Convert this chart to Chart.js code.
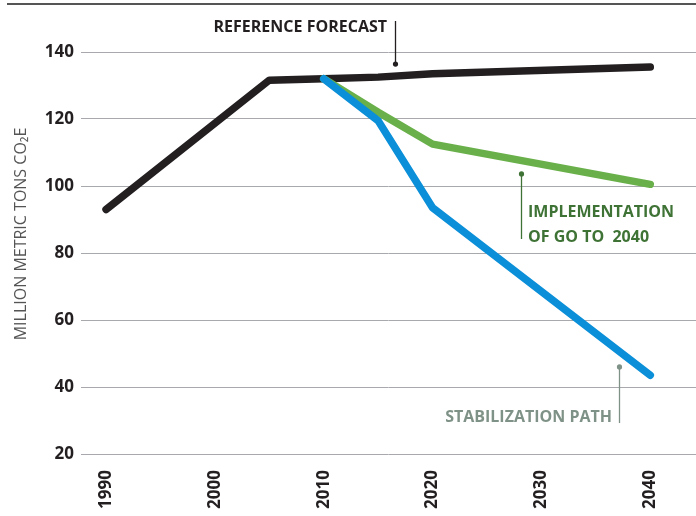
<!DOCTYPE html>
<html>
<head>
<meta charset="utf-8">
<script src="https://cdn.jsdelivr.net/npm/chart.js@4.4.1/dist/chart.umd.min.js"></script>
<style>
  html, body { margin: 0; padding: 0; background: #fff; }
  #wrap { width: 696px; height: 516px; position: relative; }
</style>
</head>
<body>
<div id="wrap"><canvas id="chart"></canvas></div>
<script>
// данные с графика
const years = [1990, 2000, 2010, 2020, 2030, 2040];
const yTicks = [20, 40, 60, 80, 100, 120, 140];

const referenceYears = [1990, 2005, 2010, 2015, 2020, 2040];
const referenceValues = [93, 131.6, 132, 132.5, 133.5, 135.5];

const goYears = [2010, 2015, 2020, 2040];
const goValues = [132, 122, 112.5, 100.5];

const stabYears = [2010, 2015, 2020, 2040];
const stabValues = [132, 119.5, 93.5, 43.5];

const FONT = "'Open Sans', 'Noto Sans', sans-serif";

function toPoints(xs, ys) {
    return xs.map((x, i) => ({ x: x, y: ys[i] }));
}

// подписи и выноски
const notesPlugin = {
    id: 'notes',
    afterDraw(chart) {
        const ctx = chart.ctx;
        const xs = chart.scales.x;
        const ys = chart.scales.y;
        ctx.save();

        // верхняя линия
        ctx.strokeStyle = '#555';
        ctx.lineWidth = 2;
        ctx.beginPath();
        ctx.moveTo(7, 4);
        ctx.lineTo(chart.width, 4);
        ctx.stroke();

        // подпись оси Y
        ctx.save();
        ctx.translate(21, 234);
        ctx.rotate(-Math.PI / 2);
        ctx.fillStyle = '#555';
        ctx.font = '16px ' + FONT;
        ctx.textAlign = 'center';
        ctx.textBaseline = 'middle';
        ctx.fillText('MILLION METRIC TONS CO₂E', 0, 0);
        ctx.restore();

        function leader(xv, yTop, yBottom, dotAtTop, color) {
            const px = Math.round(xs.getPixelForValue(xv)) + 0.5;
            ctx.strokeStyle = color;
            ctx.fillStyle = color;
            ctx.lineWidth = 1.3;
            ctx.beginPath();
            ctx.moveTo(px, yTop);
            ctx.lineTo(px, yBottom);
            ctx.stroke();
            ctx.beginPath();
            ctx.arc(px, dotAtTop ? yTop : yBottom, 2.6, 0, Math.PI * 2);
            ctx.fill();
        }

        ctx.textBaseline = 'middle';
        ctx.font = 'bold 16px ' + FONT;

        // REFERENCE FORECAST
        ctx.fillStyle = '#231f20';
        ctx.textAlign = 'right';
        ctx.fillText('REFERENCE FORECAST', 387, 27);
        leader(2016.56, 21, ys.getPixelForValue(136.4), false, '#231f20');

        // IMPLEMENTATION OF GO TO 2040
        ctx.fillStyle = '#3f7336';
        ctx.textAlign = 'left';
        ctx.fillText('IMPLEMENTATION', 528, 212);
        ctx.fillText('OF GO TO  2040', 528, 237);
        leader(2028.14, ys.getPixelForValue(103.6), 239, true, '#3f7336');

        // STABILIZATION PATH
        ctx.fillStyle = '#7f9287';
        ctx.textAlign = 'right';
        ctx.fillText('STABILIZATION PATH', 612, 417);
        leader(2037.15, ys.getPixelForValue(46), 423, true, '#7f9287');

        ctx.restore();
    }
};

const lineStyle = {
    borderWidth: 7.5,
    pointRadius: 0,
    fill: false,
    tension: 0,
    borderCapStyle: 'round',
    borderJoinStyle: 'round'
};

new Chart(document.getElementById('chart'), {
    type: 'line',
    data: {
        datasets: [
            Object.assign({ label: 'Stabilization path', data: toPoints(stabYears, stabValues), borderColor: '#0a8fd8' }, lineStyle),
            Object.assign({ label: 'Implementation of GO TO 2040', data: toPoints(goYears, goValues), borderColor: '#69b04a' }, lineStyle),
            Object.assign({ label: 'Reference forecast', data: toPoints(referenceYears, referenceValues), borderColor: '#231f20' }, lineStyle)
        ]
    },
    options: {
        responsive: true,
        maintainAspectRatio: false,
        animation: false,
        layout: { padding: { top: 52, left: 0, right: 0, bottom: 0 } },
        plugins: {
            legend: { display: false },
            tooltip: { enabled: false }
        },
        scales: {
            x: {
                type: 'linear',
                min: 1987.7,
                max: 2044.2,
                afterBuildTicks: (scale) => { scale.ticks = years.map(v => ({ value: v })); },
                afterFit: (scale) => { scale.height = 62; },
                grid: { display: false },
                border: { display: false },
                ticks: {
                    autoSkip: false,
                    minRotation: 90,
                    maxRotation: 90,
                    padding: 8,
                    color: '#231f20',
                    font: { family: FONT, size: 17, weight: 'bold' },
                    callback: (v) => String(v)
                }
            },
            y: {
                min: 20,
                max: 140,
                afterBuildTicks: (scale) => { scale.ticks = yTicks.map(v => ({ value: v })); },
                afterFit: (scale) => { scale.width = 81; },
                grid: { color: '#a7a9ac', lineWidth: 1, drawTicks: false },
                border: { display: false },
                ticks: {
                    padding: 7,
                    color: '#231f20',
                    font: { family: FONT, size: 17, weight: 'bold' }
                }
            }
        }
    },
    plugins: [notesPlugin]
});
</script>
</body>
</html>
